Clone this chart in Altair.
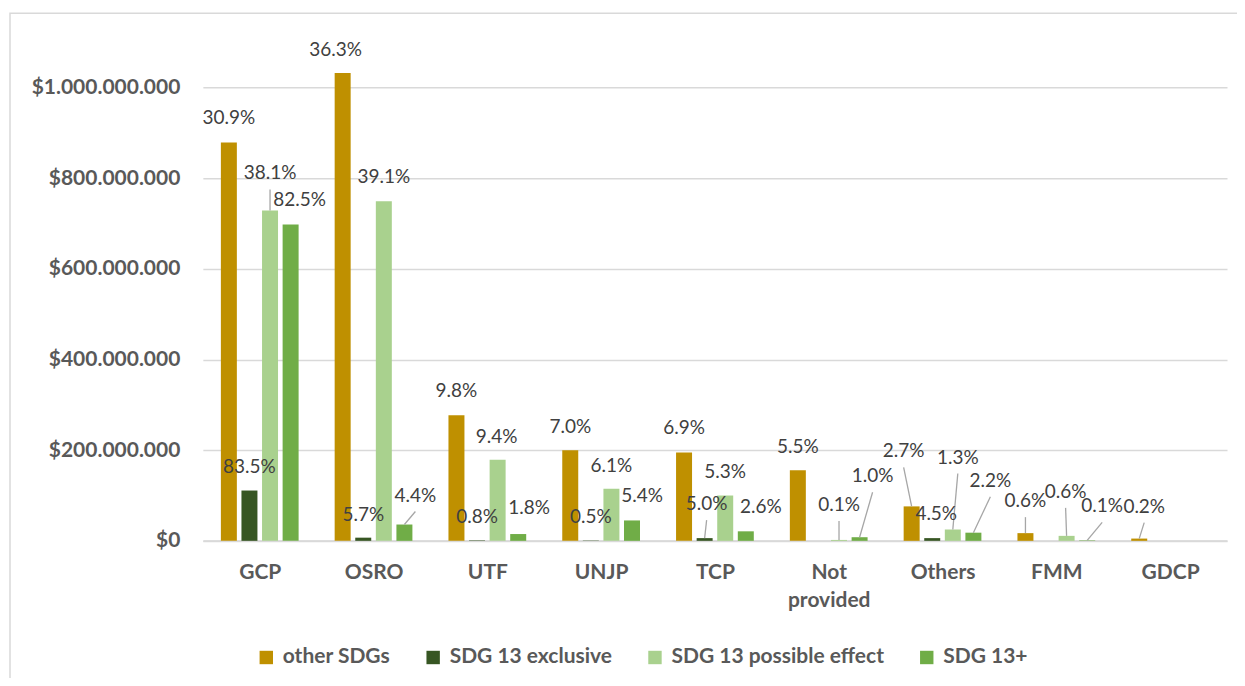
import altair as alt
import pandas as pd

# ---------------- data ----------------
categories = ["GCP", "OSRO", "UTF", "UNJP", "TCP", "Not provided", "Others", "FMM", "GDCP"]
series_names = ["other SDGs", "SDG 13 exclusive", "SDG 13 possible effect", "SDG 13+"]

other_sdgs = [879e6, 1032e6, 277e6, 200e6, 195e6, 156e6, 76e6, 17e6, 5e6]
sdg13_exclusive = [111e6, 7e6, 1e6, 0.7e6, 6e6, 0, 6e6, 0, 0]
sdg13_possible = [729e6, 749e6, 179e6, 115e6, 100e6, 2e6, 25e6, 11e6, 0]
sdg13_plus = [698e6, 36e6, 15e6, 45e6, 21e6, 8e6, 18e6, 1e6, 0]

other_pct = ["30.9%", "36.3%", "9.8%", "7.0%", "6.9%", "5.5%", "2.7%", "0.6%", "0.2%"]
exclusive_pct = ["83.5%", "5.7%", "0.8%", "0.5%", "5.0%", "", "4.5%", "", ""]
possible_pct = ["38.1%", "39.1%", "9.4%", "6.1%", "5.3%", "0.1%", "1.3%", "0.6%", ""]
plus_pct = ["82.5%", "4.4%", "1.8%", "5.4%", "2.6%", "1.0%", "2.2%", "0.1%", ""]

colors = ["#BF9000", "#375623", "#A9D18E", "#70AD47"]

# ---------------- layout (label placement, px) ----------------
# (horizontal nudge, height of label centre above bar top, leader line?)
other_lab = [(0, 24, 0), (-7, 23, 0), (0, 24, 0), (0, 23, 0), (0, 24, 0), (0, 23, 0), (-8, 55, 1), (0, 32, 1), (5, 32, 1)]
excl_lab = [(0, 24, 0), (0, 23, 0), (0, 23, 0), (0, 24, 0), (2, 34, 1), (0, 0, 0), (4, 24, 0), (0, 0, 0), (0, 0, 0)]
poss_lab = [(0, 37, 1), (0, 24, 0), (-1, 23, 0), (0, 23, 0), (0, 24, 0), (0, 35, 1), (5, 72, 1), (-1, 44, 1), (0, 0, 0)]
plus_lab = [(9, 24, 0), (11, 29, 1), (11, 26, 0), (10, 24, 0), (15, 24, 0), (13, 61, 1), (17, 52, 1), (15, 34, 1), (0, 0, 0)]

W, H = 1025, 499
YMAX = 1.1e9
PX_X = W / len(categories)       # px per category unit
PX_Y = H / YMAX                  # px per dollar
BAR_STEP = 20.6 / PX_X
BAR_HALF = 8.0 / PX_X

values = [other_sdgs, sdg13_exclusive, sdg13_possible, sdg13_plus]
pcts = [other_pct, exclusive_pct, possible_pct, plus_pct]
labs = [other_lab, excl_lab, poss_lab, plus_lab]

rows = []
for s, name in enumerate(series_names):
    for i, cat in enumerate(categories):
        v = values[s][i]
        bx = i + (s - 1.5) * BAR_STEP
        dx, lift, lead = labs[s][i]
        lx = bx + dx / PX_X
        ly = v + lift / PX_Y
        rows.append({
            "category": cat, "series": name, "order": s, "value": v,
            "x0": bx - BAR_HALF, "x1": bx + BAR_HALF, "bx": bx,
            "pct": pcts[s][i], "lx": lx, "ly": ly,
            "leader": lead, "ls": v + (lift - 16) / PX_Y,
        })
df = pd.DataFrame(rows)
labels_df = df[df["pct"] != ""]
leaders_df = df[df["leader"] == 1]

cat_js = []
for c in categories:
    parts = c.split(" ")
    if len(parts) > 1:
        cat_js.append("[" + ",".join("'" + p + "'" for p in parts) + "]")
    else:
        cat_js.append("'" + c + "'")
x_label_expr = "[" + ",".join(cat_js) + "][datum.value]"

xscale = alt.Scale(domain=[-0.5, len(categories) - 0.5], nice=False, zero=False)
yscale = alt.Scale(domain=[0, YMAX], nice=False)

xaxis = alt.Axis(
    values=list(range(len(categories))), labelExpr=x_label_expr, title=None,
    grid=False, ticks=False, tickSize=0, domain=True, domainColor="#d9d9d9",
    domainWidth=2, labelFont="Lato", labelFontWeight="bold", labelFontSize=21,
    labelColor="#595959", labelPadding=21, labelLineHeight=28,
    labelBaseline="top", labelFlush=False, labelOverlap=False)
yaxis = alt.Axis(
    values=[0, 2e8, 4e8, 6e8, 8e8, 1e9], title=None, domain=False, ticks=False, tickSize=0,
    grid=True, gridColor="#d9d9d9", gridWidth=1.5,
    labelExpr="'$' + replace(format(datum.value, ',.0f'), regexp(',', 'g'), '.')",
    labelFont="Lato", labelFontWeight="bold", labelFontSize=21, labelColor="#595959",
    labelPadding=23)

bars = alt.Chart(df).mark_bar().encode(
    x=alt.X("x0:Q", scale=xscale, axis=xaxis, title=None),
    x2="x1:Q",
    y=alt.Y("value:Q", scale=yscale, axis=yaxis, title=None),
    y2=alt.datum(0),
    color=alt.Color("series:N", scale=alt.Scale(domain=series_names, range=colors),
                    legend=alt.Legend(title=None, orient="none", legendX=53, legendY=605,
                                      direction="horizontal", columns=4,
                                      symbolType="square", symbolSize=180, symbolStrokeWidth=0,
                                      labelFont="Lato", labelFontWeight="bold", labelFontSize=21,
                                      labelColor="#595959", labelLimit=400, labelOffset=6,
                                      columnPadding=32, padding=0)),
)

leaders = alt.Chart(leaders_df).mark_rule(color="#a6a6a6", strokeWidth=1.3).encode(
    x=alt.X("lx:Q", scale=xscale, axis=xaxis, title=None),
    y=alt.Y("ls:Q", scale=yscale, axis=yaxis, title=None),
    x2="bx:Q",
    y2="value:Q",
)

texts = alt.Chart(labels_df).mark_text(font="Lato", fontSize=19, color="#404040",
                                       align="center", baseline="middle").encode(
    x=alt.X("lx:Q", scale=xscale, axis=xaxis, title=None),
    y=alt.Y("ly:Q", scale=yscale, axis=yaxis, title=None),
    text="pct:N",
)

border = alt.Chart(pd.DataFrame({"a": [0]})).mark_rect(
    fill="transparent", stroke="#d9d9d9", strokeWidth=1.5).encode(
    x=alt.value(-193), x2=alt.value(1300), y=alt.value(-29), y2=alt.value(800))

chart = alt.layer(bars, leaders, texts, border).properties(
    width=W, height=H,
    autosize=alt.AutoSizeParams(type="none"),
    padding={"left": 195, "top": 34, "right": 10, "bottom": 137},
    background="white",
).configure_view(stroke=None)

chart.save("out.html", embed_options={"renderer": "svg", "actions": False})
